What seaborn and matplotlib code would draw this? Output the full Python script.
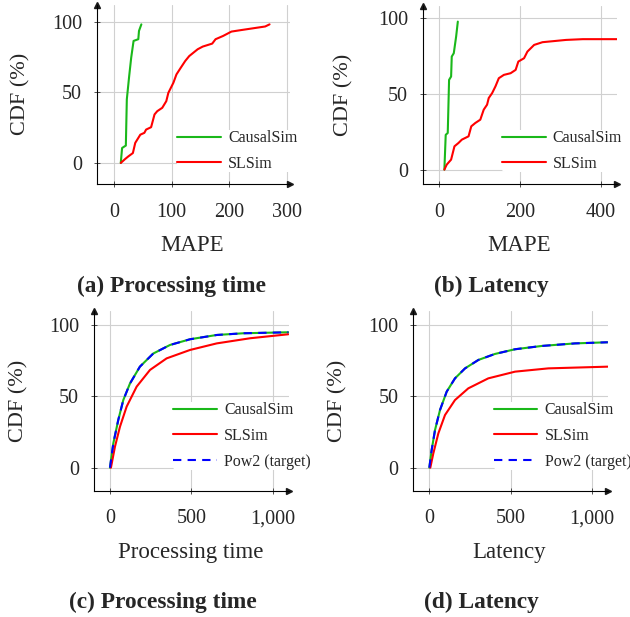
#!/usr/bin/env python3
# -*- coding: utf-8 -*-
"""CDF of MAPE and of raw processing time / latency: CausalSim vs SLSim."""

import seaborn as sns
import matplotlib.pyplot as plt

# %% Data

# (a) MAPE of processing time
a_causal_x = [11.7, 14, 20.5, 22.2, 26.3, 29.8, 33.9, 42.1, 43.3, 47.4]
a_causal_y = [0, 10.6, 12.3, 45, 61.5, 74.5, 86.3, 87.5, 93.4, 98]
a_slsim_x = [11.7, 19.3, 25, 32.7, 36.8, 45.6, 52.6, 55.6, 64.3, 70.2, 74.9,
             83.6, 90.6, 94.2, 102.9, 108.2, 115.8, 123.4, 130.4, 145, 153.8,
             170.2, 176, 189, 203.5, 221, 262, 269.6]
a_slsim_y = [0, 2.8, 4.7, 7, 14.2, 20, 21.3, 23.6, 25.3, 34.3, 36.6, 39,
             43.7, 49.6, 56.7, 62.6, 67.4, 72.1, 75.6, 80.4, 82.3, 84.4, 87.5,
             89.8, 92.9, 94, 96.5, 98]

# (b) MAPE of latency
b_causal_x = [13.3, 16.6, 21.6, 24.9, 29.9, 31.5, 36.5, 42.3, 46.5]
b_causal_y = [0, 23, 24.2, 59.3, 61.5, 74.7, 76.9, 87.9, 97.8]
b_slsim_x = [13.3, 19.1, 29.9, 38.2, 48.1, 56.4, 73, 79.7, 89.6, 102, 110.4,
             118.7, 122.8, 131.1, 139.4, 147.7, 160.2, 176.8, 189.2, 195.9,
             210, 218.3, 234.9, 255.6, 313.7, 355, 442]
b_slsim_y = [0, 3.3, 6.6, 15.4, 17.6, 19.8, 22, 28.6, 30.8, 33, 39.6, 42.9,
             47.3, 50.5, 55, 60.4, 62.6, 63.7, 65.9, 71.4, 73.6, 78, 82.4,
             84.2, 85.7, 86.2, 86.2]

# (c) processing time distribution
c_causal_x = [0, 20.5, 51, 82, 123, 184, 266, 369, 492, 656, 820, 1096]
c_causal_y = [0, 17, 33.4, 47.4, 59, 70.8, 80, 86, 90, 93, 94.2, 94.9]
c_target_x = c_causal_x
c_target_y = c_causal_y
c_slsim_x = [6, 30.7, 61.5, 102.5, 164, 246, 348, 492, 656, 861, 1096]
c_slsim_y = [0, 14.7, 28.7, 42.8, 56.8, 68.5, 76.6, 82.5, 87.1, 90.7, 93.5]

# (d) latency distribution
d_causal_x = [0, 14.4, 35, 65.7, 107, 158, 220, 302, 404, 528, 692, 897, 1099]
d_causal_y = [0, 12.4, 26.4, 40.4, 53.3, 62.6, 69.6, 75.5, 79.7, 83, 85.3,
              87.1, 87.9]
d_target_x = d_causal_x
d_target_y = d_causal_y
d_slsim_x = [6, 24.6, 55.4, 96.5, 158, 240, 363, 528, 733, 1099]
d_slsim_y = [0, 10, 24, 36.9, 47.4, 55.6, 62.6, 67.3, 69.6, 70.8]

titles = ['(a) Processing time', '(b) Latency',
          '(c) Processing time', '(d) Latency']
xlabels = ['MAPE', 'MAPE', 'Processing time', 'Latency']
xticks = [[0, 100, 200, 300], [0, 200, 400], [0, 500, 1000], [0, 500, 1000]]
xtick_labels = [['0', '100', '200', '300'], ['0', '200', '400'],
                ['0', '500', '1,000'], ['0', '500', '1,000']]
yticks = [0, 50, 100]

# %% Style

sns.set_theme(style='white')
plt.rcParams['font.family'] = ['Liberation Serif', 'DejaVu Serif']

col_causal = (0.1, 0.72, 0.1)
col_slsim = (1.0, 0.0, 0.0)
col_target = (0.0, 0.0, 1.0)
lw = 1.5

# axes rectangles [left, bottom, width, height] in figure fraction
lst_rect = [[0.1535, 0.7015, 0.3068, 0.2911],
            [0.6711, 0.7018, 0.3086, 0.2882],
            [0.1487, 0.2050, 0.3100, 0.2914],
            [0.6557, 0.2050, 0.3093, 0.2914]]
lst_xlim = [(-30, 305), (-40, 440), (-100, 1100), (-100, 1100)]
lst_ylim = [(-15, 112), (-9.5, 108), (-16, 110), (-16, 110)]
lst_ylab_x = [-0.345, -0.359, -0.336, -0.335]
lst_leg = [(0.415, 0.30), (0.406, 0.302), (0.406, 0.490), (0.413, 0.490)]
lst_title_xy = [(172, 286), (491, 286), (163, 602), (481, 602)]

lst_series = [
    [(a_causal_x, a_causal_y, 'CausalSim', col_causal, ''),
     (a_slsim_x, a_slsim_y, 'SLSim', col_slsim, '')],
    [(b_causal_x, b_causal_y, 'CausalSim', col_causal, ''),
     (b_slsim_x, b_slsim_y, 'SLSim', col_slsim, '')],
    [(c_causal_x, c_causal_y, 'CausalSim', col_causal, ''),
     (c_slsim_x, c_slsim_y, 'SLSim', col_slsim, ''),
     (c_target_x, c_target_y, 'Pow2 (target)', col_target, (4, 3))],
    [(d_causal_x, d_causal_y, 'CausalSim', col_causal, ''),
     (d_slsim_x, d_slsim_y, 'SLSim', col_slsim, ''),
     (d_target_x, d_target_y, 'Pow2 (target)', col_target, (4, 3))],
]

# %% Plot

fig = plt.figure(figsize=(6.3, 6.17), dpi=100)

for ind in range(4):
    ax = fig.add_axes(lst_rect[ind])
    for x, y, name, col, dash in lst_series[ind]:
        sns.lineplot(x=x, y=y, ax=ax, color=col, linewidth=lw,
                     label=name, sort=False, estimator=None)
        if dash:
            ax.get_lines()[-1].set_dashes(dash)

    ax.set_xlim(lst_xlim[ind])
    ax.set_ylim(lst_ylim[ind])
    ax.set_xticks(xticks[ind])
    ax.set_xticklabels(xtick_labels[ind])
    ax.set_yticks(yticks)
    ax.grid(True, color='#d0d0d0', linewidth=0.8)
    ax.set_axisbelow(True)
    for side in ['top', 'right']:
        ax.spines[side].set_visible(False)
    for side in ['left', 'bottom']:
        ax.spines[side].set_color('black')
        ax.spines[side].set_linewidth(0.8)
    ax.tick_params(axis='both', which='major', direction='inout', length=5,
                   width=0.6, color='#333333', labelsize=14.5, left=True,
                   bottom=True)
    ax.tick_params(axis='x', pad=11)
    ax.tick_params(axis='y', pad=8)

    # arrow heads at the end of the axis lines
    ax.plot(1, 0, '>k', ms=4, transform=ax.transAxes, clip_on=False)
    ax.plot(0, 1, '^k', ms=4, transform=ax.transAxes, clip_on=False)

    ax.set_xlabel(xlabels[ind], fontsize=16.5)
    ax.set_ylabel('CDF (%)', fontsize=16)
    ax.xaxis.set_label_coords(0.495, -0.285)
    ax.yaxis.set_label_coords(lst_ylab_x[ind], 0.5)

    leg = ax.legend(loc='upper left', bbox_to_anchor=lst_leg[ind],
                    borderpad=0, borderaxespad=0, frameon=True,
                    facecolor='white', edgecolor='none', framealpha=1,
                    fontsize=11.5, handlelength=2.75, handletextpad=0.45,
                    labelspacing=0.6)
    leg.set_zorder(5)

    tx, ty = lst_title_xy[ind]
    fig.text(tx / 630, 1 - ty / 617, titles[ind], fontsize=16.8,
             fontweight='bold', ha='center', va='center')

fig.savefig('out.png', dpi=100)
